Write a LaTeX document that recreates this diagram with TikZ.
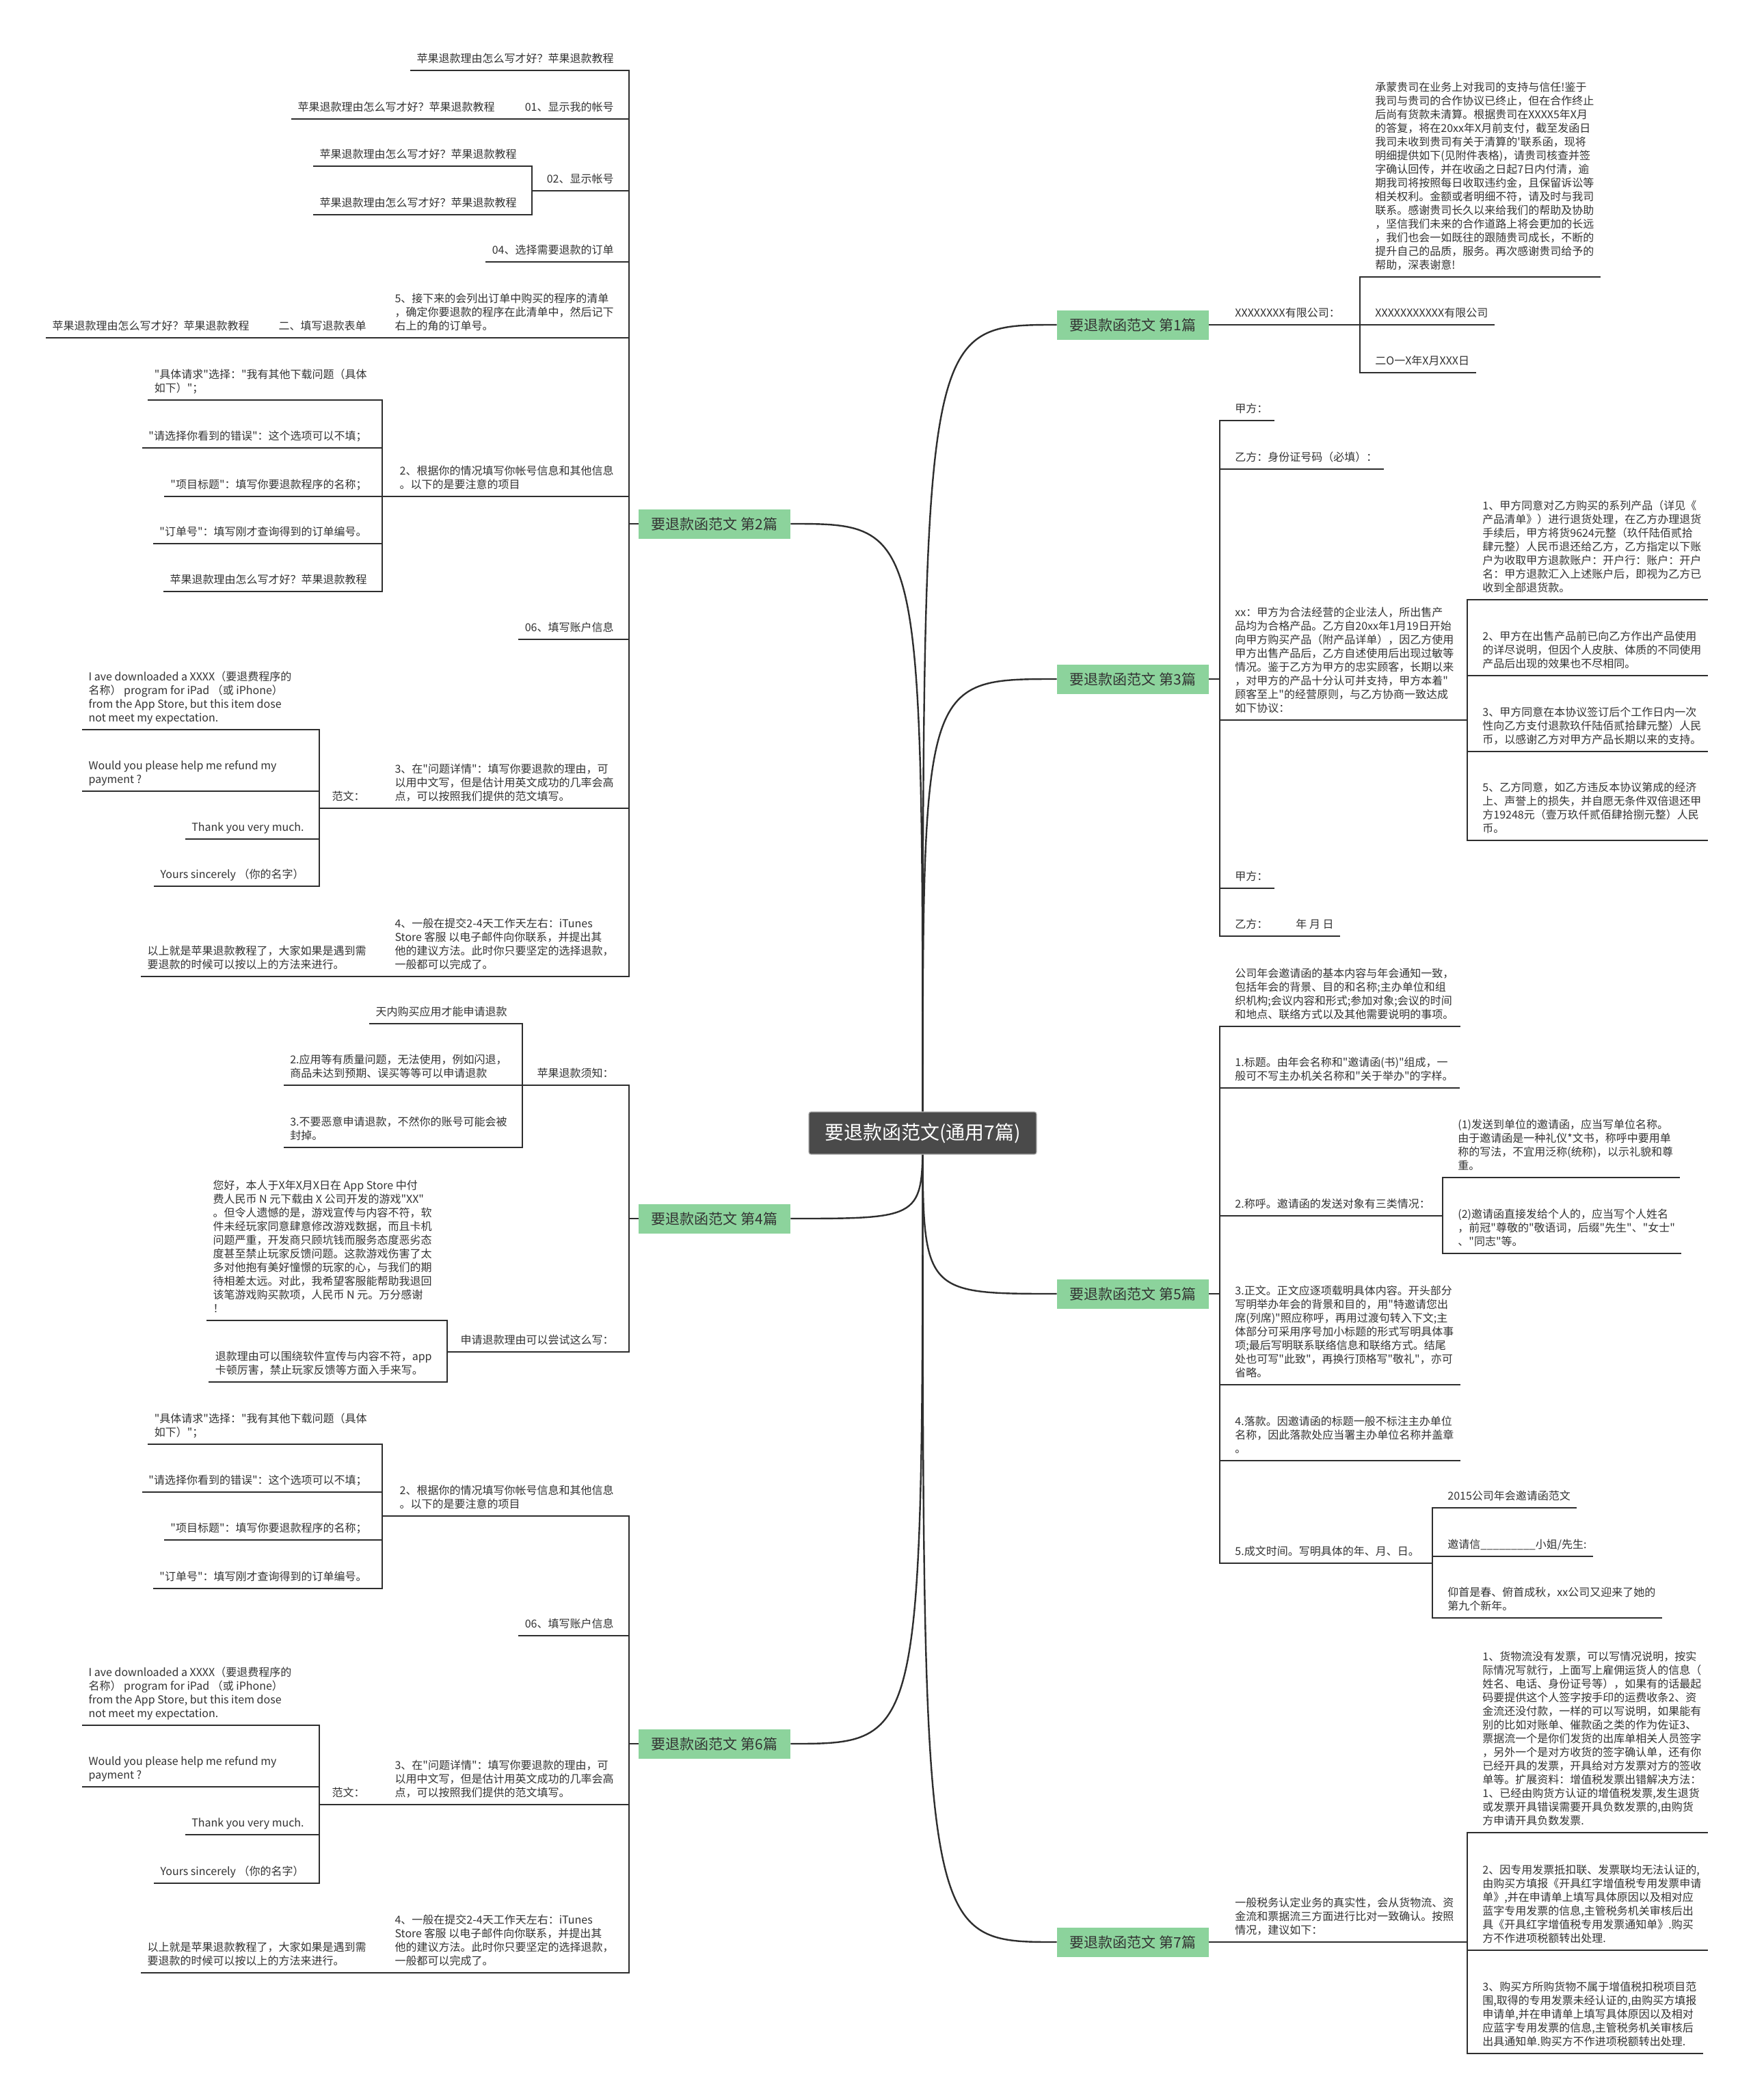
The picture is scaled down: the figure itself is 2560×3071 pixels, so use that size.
\documentclass[tikz,border=0pt]{standalone}
\usepackage{fontspec}
\setmainfont{Noto Sans CJK SC}[Ligatures=TeXOff]
\usetikzlibrary{calc}
\definecolor{linec}{HTML}{2E2E2E}
\definecolor{txtc}{HTML}{333333}
\definecolor{brc}{HTML}{8CD39C}
\definecolor{ctrc}{HTML}{4A4A4A}
\pgfdeclarelayer{bg}
\pgfsetlayers{bg,main}
\newcommand\mytxt{\fontsize{8pt}{10pt}\selectfont}
\newcommand\mybr{\fontsize{10.5pt}{12pt}\selectfont}
\newcommand\myctr{\fontsize{14pt}{16pt}\selectfont}
\newcommand\wline[1]{\makebox[157.5pt][l]{#1}}
\tikzset{
 ln/.style={draw=linec, line width=1.1pt},
 cv/.style={draw=linec, line width=1.2pt},
 lt/.style={anchor=south east, inner xsep=4.5pt, inner ysep=2.5pt, text depth=3pt, align=left, text=txtc, font=\mytxt},
 rt/.style={lt, anchor=south west},
 br/.style={fill=brc, text=txtc, minimum width=111pt, minimum height=21.5pt, inner sep=0pt, font=\mybr},
 ctr/.style={fill=ctrc, draw=gray!60, line width=0.6pt, text=white, minimum width=166.5pt, minimum height=31pt, inner sep=0pt, font=\myctr, rounded corners=1.5pt},
}
\newcommand\pgq{苹果退款理由怎么写才好？苹果退款教程}
\begin{document}
\begin{tikzpicture}[x=0.5pt,y=-0.5pt]
\useasboundingbox (0,0) rectangle (2560,3071);
% centre and branches
\node[ctr] (C) at (1349.5,1657) {要退款函范文(通用7篇)};
\node[br] (N1) at (1657,475) {要退款函范文 第1篇};
\node[br] (N2) at (1045,766) {要退款函范文 第2篇};
\node[br] (N3) at (1657,993) {要退款函范文 第3篇};
\node[br] (N4) at (1045,1782) {要退款函范文 第4篇};
\node[br] (N5) at (1657,1892) {要退款函范文 第5篇};
\node[br] (N6) at (1045,2550) {要退款函范文 第6篇};
\node[br] (N7) at (1657,2840) {要退款函范文 第7篇};
\begin{pgfonlayer}{bg}
\fill[white] (0,0) rectangle (2560,3071);
\foreach \n in {N2,N4,N6} \draw[cv] (C.center) .. controls (C.center |- \n.east) .. (\n.east);
\foreach \n in {N1,N3,N5,N7} \draw[cv] (C.center) .. controls (C.center |- \n.west) .. (\n.west);
\end{pgfonlayer}

% ===== 第2篇 =====
\coordinate (J2) at (920,766);
\node[lt] (A) at (907,103) {\pgq};
\node[lt] (B) at (907,174) {01、显示我的帐号};
\node[lt] (B1) at (733,174) {\pgq};
\node[lt] (Cc) at (907,279) {02、显示帐号};
\coordinate (JC) at (778,279);
\node[lt] (C1) at (765,243) {\pgq};
\node[lt] (C2) at (765,314) {\pgq};
\node[lt] (D) at (907,383) {04、选择需要退款的订单};
\node[lt] (E) at (907,494) {5、接下来的会列出订单中购买的程序的清单\\，确定你要退款的程序在此清单中，然后记下\\右上的角的订单号。};
\node[lt] (E1) at (545,494) {二、填写退款表单};
\node[lt] (E2) at (374,494) {\pgq};
\node[lt] (F) at (907,726) {2、根据你的情况填写你帐号信息和其他信息\\。以下的是要注意的项目};
\coordinate (JF) at (559,726);
\node[lt] (F1) at (546,585) {"具体请求"选择："我有其他下载问题（具体\\如下）"；};
\node[lt] (F2) at (546,655) {"请选择你看到的错误"：这个选项可以不填；};
\node[lt] (F3) at (546,726) {"项目标题"：填写你要退款程序的名称；};
\node[lt] (F4) at (546,795) {"订单号"：填写刚才查询得到的订单编号。};
\node[lt] (F5) at (546,865) {\pgq};
\node[lt] (G) at (907,935) {06、填写账户信息};
\node[lt] (H) at (907,1182) {3、在"问题详情"：填写你要退款的理由，可\\以用中文写，但是估计用英文成功的几率会高\\点，可以按照我们提供的范文填写。};
\node[lt] (H0) at (543,1182) {范文：};
\coordinate (JH) at (467,1182);
\node[lt] (H1) at (454,1067) {\wline{I ave downloaded a XXXX（要退费程序的}\\名称） program for iPad （或 iPhone）\\from the App Store, but this item dose\\not meet my expectation.};
\node[lt] (H2) at (454,1157) {\wline{Would you please help me refund my}\\payment ?};
\node[lt] (H3) at (454,1227) {Thank you very much.};
\node[lt] (H4) at (454,1296) {Yours sincerely （你的名字）};
\node[lt] (I) at (907,1428) {4、一般在提交2-4天工作天左右：iTunes\\Store 客服 以电子邮件向你联系，并提出其\\他的建议方法。此时你只要坚定的选择退款，\\一般都可以完成了。};
\node[lt] (I1) at (545,1428) {以上就是苹果退款教程了，大家如果是遇到需\\要退款的时候可以按以上的方法来进行。};

\foreach \c in {A,B,Cc,D,E,F,G,H,I} \draw[ln] (\c.south west) -- (\c.south east) -| (J2);
\draw[ln] (J2) -- (N2.west);
\draw[ln] (B1.south west) -- (B1.south east) -- (B.south west);
\draw[ln] (Cc.south west) -- (JC);
\foreach \c in {C1,C2} \draw[ln] (\c.south west) -- (\c.south east) -| (JC);
\draw[ln] (E2.south west) -- (E2.south east) -- (E1.south west);
\draw[ln] (E1.south west) -- (E1.south east) -- (E.south west);
\draw[ln] (F.south west) -- (JF);
\foreach \c in {F1,F2,F3,F4,F5} \draw[ln] (\c.south west) -- (\c.south east) -| (JF);
\draw[ln] (H0.south east) -- (H.south west);
\draw[ln] (H0.south west) -- (H0.south east);
\draw[ln] (H0.south west) -- (JH);
\foreach \c in {H1,H2,H3,H4} \draw[ln] (\c.south west) -- (\c.south east) -| (JH);
\draw[ln] (I1.south west) -- (I1.south east) -- (I.south west);

% ===== 第4篇 =====
\coordinate (J4) at (920,1782);
\node[lt] (Jn) at (907,1587) {苹果退款须知：};
\coordinate (JJn) at (764,1587);
\node[lt] (Jn1) at (751,1497) {天内购买应用才能申请退款};
\node[lt] (Jn2) at (751,1587) {2.应用等有质量问题，无法使用，例如闪退，\\商品未达到预期、误买等等可以申请退款};
\node[lt] (Jn3) at (751,1678) {3.不要恶意申请退款，不然你的账号可能会被\\封掉。};
\node[lt] (Kn) at (907,1977) {申请退款理由可以尝试这么写：};
\coordinate (JKn) at (654,1977);
\node[lt] (Kn1) at (641,1931) {您好，本人于X年X月X日在 App Store 中付\\费人民币 N 元下载由 X 公司开发的游戏"XX"\\。但令人遗憾的是，游戏宣传与内容不符，软\\件未经玩家同意肆意修改游戏数据，而且卡机\\问题严重，开发商只顾坑钱而服务态度恶劣态\\度甚至禁止玩家反馈问题。这款游戏伤害了太\\多对他抱有美好憧憬的玩家的心，与我们的期\\待相差太远。对此，我希望客服能帮助我退回\\该笔游戏购买款项，人民币 N 元。万分感谢\\！};
\node[lt] (Kn2) at (641,2021) {退款理由可以围绕软件宣传与内容不符，app\\卡顿厉害，禁止玩家反馈等方面入手来写。};
\foreach \c in {Jn,Kn} \draw[ln] (\c.south west) -- (\c.south east) -| (J4);
\draw[ln] (J4) -- (N4.west);
\draw[ln] (Jn.south west) -- (JJn);
\foreach \c in {Jn1,Jn2,Jn3} \draw[ln] (\c.south west) -- (\c.south east) -| (JJn);
\draw[ln] (Kn.south west) -- (JKn);
\foreach \c in {Kn1,Kn2} \draw[ln] (\c.south west) -- (\c.south east) -| (JKn);

% ===== 第6篇 =====
\coordinate (J6) at (920,2550);
\node[lt] (Fb) at (907,2217) {2、根据你的情况填写你帐号信息和其他信息\\。以下的是要注意的项目};
\coordinate (JFb) at (559,2217);
\node[lt] (Fb1) at (546,2112) {"具体请求"选择："我有其他下载问题（具体\\如下）"；};
\node[lt] (Fb2) at (546,2182) {"请选择你看到的错误"：这个选项可以不填；};
\node[lt] (Fb3) at (546,2252) {"项目标题"：填写你要退款程序的名称；};
\node[lt] (Fb4) at (546,2323) {"订单号"：填写刚才查询得到的订单编号。};
\node[lt] (Gb) at (907,2392) {06、填写账户信息};
\node[lt] (Hb) at (907,2639) {3、在"问题详情"：填写你要退款的理由，可\\以用中文写，但是估计用英文成功的几率会高\\点，可以按照我们提供的范文填写。};
\node[lt] (Hb0) at (543,2639) {范文：};
\coordinate (JHb) at (467,2639);
\node[lt] (Hb1) at (454,2523) {\wline{I ave downloaded a XXXX（要退费程序的}\\名称） program for iPad （或 iPhone）\\from the App Store, but this item dose\\not meet my expectation.};
\node[lt] (Hb2) at (454,2613) {\wline{Would you please help me refund my}\\payment ?};
\node[lt] (Hb3) at (454,2683) {Thank you very much.};
\node[lt] (Hb4) at (454,2754) {Yours sincerely （你的名字）};
\node[lt] (Ib) at (907,2885) {4、一般在提交2-4天工作天左右：iTunes\\Store 客服 以电子邮件向你联系，并提出其\\他的建议方法。此时你只要坚定的选择退款，\\一般都可以完成了。};
\node[lt] (Ib1) at (545,2885) {以上就是苹果退款教程了，大家如果是遇到需\\要退款的时候可以按以上的方法来进行。};
\foreach \c in {Fb,Gb,Hb,Ib} \draw[ln] (\c.south west) -- (\c.south east) -| (J6);
\draw[ln] (J6) -- (N6.west);
\draw[ln] (Fb.south west) -- (JFb);
\foreach \c in {Fb1,Fb2,Fb3,Fb4} \draw[ln] (\c.south west) -- (\c.south east) -| (JFb);
\draw[ln] (Hb0.south east) -- (Hb.south west);
\draw[ln] (Hb0.south west) -- (Hb0.south east);
\draw[ln] (Hb0.south west) -- (JHb);
\foreach \c in {Hb1,Hb2,Hb3,Hb4} \draw[ln] (\c.south west) -- (\c.south east) -| (JHb);
\draw[ln] (Ib1.south west) -- (Ib1.south east) -- (Ib.south west);

% ===== 第1篇 =====
\node[rt] (R1) at (1797,475) {XXXXXXXX有限公司：};
\coordinate (JR1) at (1989,475);
\node[rt] (R1a) at (2002,405) {承蒙贵司在业务上对我司的支持与信任!鉴于\\我司与贵司的合作协议已终止，但在合作终止\\后尚有货款未清算。根据贵司在XXXX5年X月\\的答复，将在20xx年X月前支付，截至发函日\\我司未收到贵司有关于清算的'联系函，现将\\明细提供如下(见附件表格)，请贵司核查并签\\字确认回传，并在收函之日起7日内付清，逾\\期我司将按照每日收取违约金，且保留诉讼等\\相关权利。金额或者明细不符，请及时与我司\\联系。感谢贵司长久以来给我们的帮助及协助\\，坚信我们未来的合作道路上将会更加的长远\\，我们也会一如既往的跟随贵司成长，不断的\\提升自己的品质，服务。再次感谢贵司给予的\\帮助，深表谢意!};
\node[rt] (R1b) at (2002,475) {XXXXXXXXXXX有限公司};
\node[rt] (R1c) at (2002,545) {二O一X年X月XXX日};
\draw[ln] (R1.south east) -- (R1.south west) -- (N1.east);
\draw[ln] (R1.south east) -- (JR1);
\foreach \c in {R1a,R1b,R1c} \draw[ln] (\c.south east) -- (\c.south west) -| (JR1);

% ===== 第3篇 =====
\coordinate (J3) at (1784,993);
\node[rt] (S1) at (1797,615) {甲方：};
\node[rt] (S2) at (1797,686) {乙方：身份证号码（必填）：};
\node[rt] (S3) at (1797,1053) {xx：甲方为合法经营的企业法人，所出售产\\品均为合格产品。乙方自20xx年1月19日开始\\向甲方购买产品（附产品详单），因乙方使用\\甲方出售产品后，乙方自述使用后出现过敏等\\情况。鉴于乙方为甲方的忠实顾客，长期以来\\，对甲方的产品十分认可并支持，甲方本着"\\顾客至上"的经营原则，与乙方协商一致达成\\如下协议：};
\coordinate (JS3) at (2146,1053);
\node[rt] (S3a) at (2159,877) {1、甲方同意对乙方购买的系列产品（详见《\\产品清单》）进行退货处理，在乙方办理退货\\手续后，甲方将货9624元整（玖仟陆佰贰拾\\肆元整）人民币退还给乙方，乙方指定以下账\\户为收取甲方退款账户：开户行：账户：开户\\名：甲方退款汇入上述账户后，即视为乙方已\\收到全部退货款。};
\node[rt] (S3b) at (2159,988) {2、甲方在出售产品前已向乙方作出产品使用\\的详尽说明，但因个人皮肤、体质的不同使用\\产品后出现的效果也不尽相同。};
\node[rt] (S3c) at (2159,1099) {3、甲方同意在本协议签订后个工作日内一次\\性向乙方支付退款玖仟陆佰贰拾肆元整）人民\\币，以感谢乙方对甲方产品长期以来的支持。};
\node[rt] (S3d) at (2159,1229) {5、乙方同意，如乙方违反本协议第成的经济\\上、声誉上的损失，并自愿无条件双倍退还甲\\方19248元（壹万玖仟贰佰肆拾捌元整）人民\\币。};
\node[rt] (S4) at (1797,1299) {甲方：};
\node[rt] (S5) at (1797,1369) {乙方：\hspace{20.5pt}年 月 日};
\draw[ln] (N3.east) -- (J3);
\foreach \c in {S1,S2,S3,S4,S5} \draw[ln] (\c.south east) -- (\c.south west) -| (J3);
\draw[ln] (S3.south east) -- (JS3);
\foreach \c in {S3a,S3b,S3c,S3d} \draw[ln] (\c.south east) -- (\c.south west) -| (JS3);

% ===== 第5篇 =====
\coordinate (J5) at (1784,1892);
\node[rt] (P0) at (1797,1501) {公司年会邀请函的基本内容与年会通知一致，\\包括年会的背景、目的和名称;主办单位和组\\织机构;会议内容和形式;参加对象;会议的时间\\和地点、联络方式以及其他需要说明的事项。};
\node[rt] (P1) at (1797,1591) {1.标题。由年会名称和"邀请函(书)"组成，一\\般可不写主办机关名称和"关于举办"的字样。};
\node[rt] (P2) at (1797,1778) {2.称呼。邀请函的发送对象有三类情况：};
\coordinate (JP2) at (2110,1778);
\node[rt] (P2a) at (2123,1722) {(1)发送到单位的邀请函，应当写单位名称。\\由于邀请函是一种礼仪*文书，称呼中要用单\\称的写法，不宜用泛称(统称)，以示礼貌和尊\\重。};
\node[rt] (P2b) at (2123,1833) {(2)邀请函直接发给个人的，应当写个人姓名\\，前冠"尊敬的"敬语词，后缀"先生"、"女士"\\、"同志"等。};
\node[rt] (P3) at (1797,2025) {3.正文。正文应逐项载明具体内容。开头部分\\写明举办年会的背景和目的，用"特邀请您出\\席(列席)"照应称呼，再用过渡句转入下文;主\\体部分可采用序号加小标题的形式写明具体事\\项;最后写明联系联络信息和联络方式。结尾\\处也可写"此致"，再换行顶格写"敬礼"，亦可\\省略。};
\node[rt] (P4) at (1797,2136) {4.落款。因邀请函的标题一般不标注主办单位\\名称，因此落款处应当署主办单位名称并盖章\\。};
\node[rt] (P5) at (1797,2286) {5.成文时间。写明具体的年、月、日。};
\coordinate (JP5) at (2095,2286);
\node[rt] (P5a) at (2108,2205) {2015公司年会邀请函范文};
\node[rt] (P5b) at (2108,2276) {邀请信\_\_\_\_\_\_\_\_\_小姐/先生:};
\node[rt] (P5c) at (2108,2366) {仰首是春、俯首成秋，xx公司又迎来了她的\\第九个新年。};
\draw[ln] (N5.east) -- (J5);
\foreach \c in {P0,P1,P2,P3,P4,P5} \draw[ln] (\c.south east) -- (\c.south west) -| (J5);
\draw[ln] (P2.south east) -- (JP2);
\foreach \c in {P2a,P2b} \draw[ln] (\c.south east) -- (\c.south west) -| (JP2);
\draw[ln] (P5.south east) -- (JP5);
\foreach \c in {P5a,P5b,P5c} \draw[ln] (\c.south east) -- (\c.south west) -| (JP5);

% ===== 第7篇 =====
\node[rt] (Q) at (1797,2840) {一般税务认定业务的真实性，会从货物流、资\\金流和票据流三方面进行比对一致确认。按照\\情况，建议如下：};
\coordinate (JQ) at (2146,2840);
\node[rt] (Q1) at (2159,2680) {1、货物流没有发票，可以写情况说明，按实\\际情况写就行，上面写上雇佣运货人的信息（\\姓名、电话、身份证号等），如果有的话最起\\码要提供这个人签字按手印的运费收条2、资\\金流还没付款，一样的可以写说明，如果能有\\别的比如对账单、催款函之类的作为佐证3、\\票据流一个是你们发货的出库单相关人员签字\\，另外一个是对方收货的签字确认单，还有你\\已经开具的发票，开具给对方发票对方的签收\\单等。扩展资料：增值税发票出错解决方法：\\1、已经由购货方认证的增值税发票,发生退货\\或发票开具错误需要开具负数发票的,由购货\\方申请开具负数发票.};
\node[rt] (Q2) at (2159,2852) {2、因专用发票抵扣联、发票联均无法认证的,\\由购买方填报《开具红字增值税专用发票申请\\单》,并在申请单上填写具体原因以及相对应\\蓝字专用发票的信息,主管税务机关审核后出\\具《开具红字增值税专用发票通知单》.购买\\方不作进项税额转出处理.};
\node[rt] (Q3) at (2159,3003) {3、购买方所购货物不属于增值税扣税项目范\\围,取得的专用发票未经认证的,由购买方填报\\申请单,并在申请单上填写具体原因以及相对\\应蓝字专用发票的信息,主管税务机关审核后\\出具通知单.购买方不作进项税额转出处理.};
\draw[ln] (Q.south east) -- (Q.south west) -- (N7.east);
\draw[ln] (Q.south east) -- (JQ);
\foreach \c in {Q1,Q2,Q3} \draw[ln] (\c.south east) -- (\c.south west) -| (JQ);
\end{tikzpicture}
\end{document}
